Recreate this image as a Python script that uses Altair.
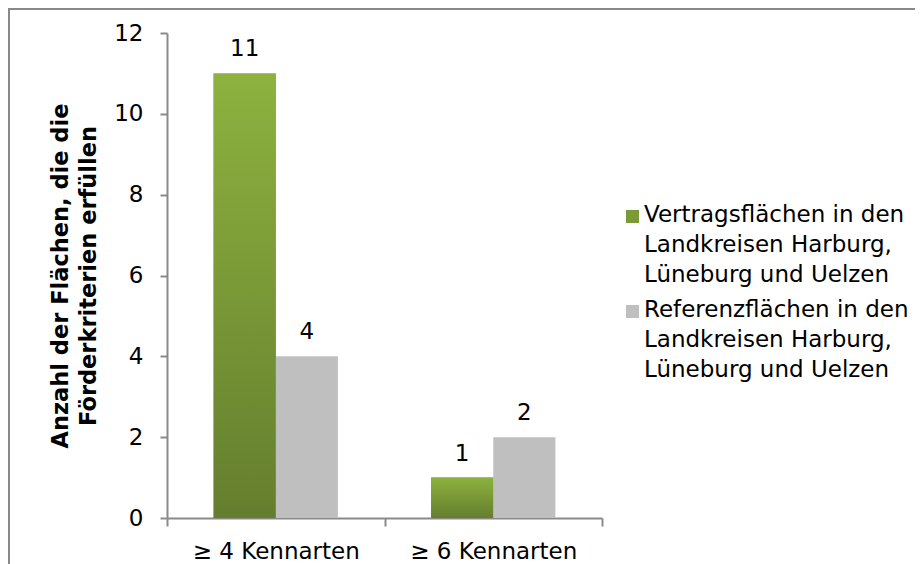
import altair as alt
import pandas as pd

categories = ["≥ 4 Kennarten", "≥ 6 Kennarten"]
series = [
    "Vertragsflächen in den Landkreisen Harburg, Lüneburg und Uelzen",
    "Referenzflächen in den Landkreisen Harburg, Lüneburg und Uelzen",
]
vertrag = [11, 1]
referenz = [4, 2]
y_ticks = [0, 2, 4, 6, 8, 10, 12]
legend_lines = [
    ["Vertragsflächen in den", "Landkreisen Harburg,", "Lüneburg und Uelzen"],
    ["Referenzflächen in den", "Landkreisen Harburg,", "Lüneburg und Uelzen"],
]
y_title = ["Anzahl der Flächen, die die", "Förderkriterien erfüllen"]
colors = ["#7A9A38", "#BFBFBF"]

rows = []
for i, c in enumerate(categories):
    rows.append({"Kategorie": c, "Serie": series[0], "Anzahl": vertrag[i]})
    rows.append({"Kategorie": c, "Serie": series[1], "Anzahl": referenz[i]})
df = pd.DataFrame(rows)


def arr(lines):
    return "[" + ",".join("'" + s + "'" for s in lines) + "]"


label_expr = f"datum.label == '{series[0]}' ? {arr(legend_lines[0])} : {arr(legend_lines[1])}"

AX = "#8A8A8A"
FS = 23

x = alt.X(
    "Kategorie:N",
    sort=categories,
    scale=alt.Scale(domain=categories, range=[158, 593], paddingInner=0, paddingOuter=0),
    axis=alt.Axis(
        title=None, offset=-46, domainColor=AX, domainWidth=2, tickColor=AX,
        tickWidth=2, tickSize=8, tickBand="extent", labelPadding=14,
        labelFontSize=FS, labelColor="#000000", labelAngle=0, grid=False,
    ),
)
xo = alt.XOffset(
    "Serie:N", sort=series,
    scale=alt.Scale(domain=series, paddingInner=0, paddingOuter=0.75),
)
y = alt.Y(
    "Anzahl:Q",
    scale=alt.Scale(domain=[0, 12], range=[509, 24], nice=False, zero=True),
    axis=alt.Axis(
        values=y_ticks, title=y_title, offset=-158, domainColor=AX, domainWidth=2,
        tickColor=AX, tickWidth=2, tickSize=7, labelPadding=17, labelFontSize=FS,
        labelColor="#000000", grid=False, titleFontSize=22.5, titleFontWeight="bold",
        titleColor="#000000", titleLineHeight=28, titlePadding=13,
    ),
)

base = alt.Chart(df)

bars = base.mark_bar().encode(
    x=x, xOffset=xo, y=y,
    color=alt.Color(
        "Serie:N", sort=series,
        scale=alt.Scale(domain=series, range=colors),
        legend=alt.Legend(
            title=None, orient="none", legendX=612, legendY=183,
            labelExpr=label_expr, labelBaseline="top", labelFontSize=FS,
            labelColor="#000000", labelLimit=600,
            symbolType="M-1,1L1,1L1,3L-1,3Z",
            symbolSize=169, symbolStrokeWidth=0, labelOffset=0, rowPadding=0,
            padding=0,
        ),
    ),
)

grad = alt.LinearGradient(
    gradient="linear",
    stops=[
        alt.GradientStop(color="#8DB23F", offset=0),
        alt.GradientStop(color="#657E2E", offset=1),
    ],
    x1=0, x2=0, y1=0, y2=1,
)

overlay = base.transform_filter(
    alt.datum.Serie == series[0]
).mark_bar(color=grad).encode(x=x, xOffset=xo, y=y)

labels = base.mark_text(
    dy=-17, fontSize=FS, color="#000000", baseline="alphabetic"
).encode(x=x, xOffset=xo, y=y, text="Anzahl:Q")

W, H = 906, 555
chart = (
    alt.layer(bars, overlay, labels)
    .properties(
        width=W, height=H,
        autosize=alt.AutoSizeParams(type="none"),
        padding={"left": 1, "top": 1, "right": 0, "bottom": 0},
    )
    .configure(font="DejaVu Sans", style={"guide-label": {"lineHeight": 30}})
    .configure_view(stroke="#898989", strokeWidth=2, strokeDash=[W, W + H, H])
)

chart.save("out.html", embed_options={"renderer": "svg", "actions": False})
